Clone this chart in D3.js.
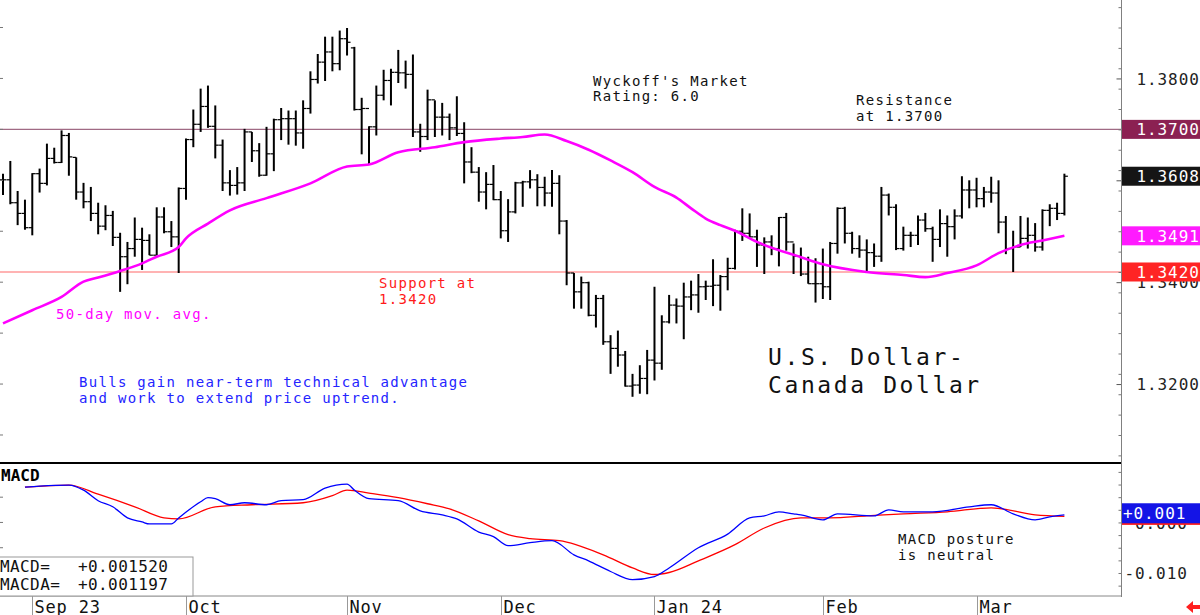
<!DOCTYPE html>
<html>
<head>
<meta charset="utf-8">
<script src="https://cdn.jsdelivr.net/npm/d3@7"></script>
<style>
  body { margin: 0; background: #fff; }
  svg { display: block; }
  text { font-family: "DejaVu Sans Mono", monospace; white-space: pre; }
</style>
</head>
<body>
<script>
// ---- data (daily bars, Aug 28 2023 .. Mar 19 2024) ----
const monthLabels = ["Sep 23", "Oct", "Nov", "Dec", "Jan 24", "Feb", "Mar"];
const monthStart = [4, 25, 47, 68, 89, 112, 133];

const opens = [1.3601,1.3601,1.3556,1.3535,1.3507,1.3613,1.3594,1.3643,1.3635,1.3688,
 1.3645,1.3577,1.3558,1.3535,1.3510,1.3531,1.3488,1.3450,1.3466,1.3484,
 1.3482,1.3453,1.3528,1.3499,1.3489,1.3584,1.3680,1.3710,1.3745,1.3706,
 1.3669,1.3595,1.3590,1.3595,1.3695,1.3658,1.3610,1.3652,1.3719,1.3721,
 1.3721,1.3693,1.3741,1.3798,1.3832,1.3852,1.3829,1.3878,1.3860,1.3739,
 1.3741,1.3705,1.3767,1.3796,1.3812,1.3811,1.3808,1.3695,1.3686,1.3758,
 1.3724,1.3724,1.3703,1.3692,1.3636,1.3616,1.3577,1.3592,1.3562,1.3501,
 1.3538,1.3595,1.3597,1.3601,1.3586,1.3575,1.3594,1.3520,1.3418,1.3381,
 1.3399,1.3335,1.3368,1.3283,1.3270,1.3257,1.3196,1.3198,1.3211,1.3247,
 1.3241,1.3322,1.3355,1.3353,1.3371,1.3375,1.3391,1.3392,1.3394,1.3411,
 1.3427,1.3500,1.3496,1.3489,1.3473,1.3479,1.3466,1.3527,1.3479,1.3451,
 1.3416,1.3397,1.3397,1.3391,1.3476,1.3545,1.3496,1.3466,1.3463,1.3458,
 1.3451,1.3571,1.3547,1.3466,1.3492,1.3492,1.3522,1.3505,1.3484,1.3515,
 1.3509,1.3530,1.3581,1.3581,1.3564,1.3577,1.3575,1.3518,1.3466,1.3469,
 1.3486,1.3492,1.3469,1.3541,1.3545,1.3535];

const highs = [1.3613,1.3638,1.3579,1.3562,1.3614,1.3623,1.3672,1.3664,1.3698,1.3693,
 1.3645,1.3595,1.3587,1.3556,1.3551,1.3540,1.3497,1.3479,1.3527,1.3507,
 1.3494,1.3547,1.3547,1.3520,1.3586,1.3682,1.3739,1.3780,1.3786,1.3747,
 1.3680,1.3620,1.3626,1.3701,1.3695,1.3673,1.3705,1.3721,1.3742,1.3737,
 1.3737,1.3757,1.3814,1.3848,1.3882,1.3882,1.3894,1.3899,1.3862,1.3762,
 1.3706,1.3786,1.3817,1.3819,1.3856,1.3835,1.3847,1.3711,1.3778,1.3757,
 1.3752,1.3731,1.3765,1.3714,1.3665,1.3626,1.3616,1.3630,1.3579,1.3563,
 1.3597,1.3599,1.3620,1.3612,1.3607,1.3620,1.3610,1.3522,1.3418,1.3411,
 1.3401,1.3375,1.3375,1.3296,1.3305,1.3265,1.3220,1.3237,1.3267,1.3391,
 1.3335,1.3375,1.3368,1.3399,1.3403,1.3416,1.3403,1.3445,1.3414,1.3448,
 1.3503,1.3545,1.3535,1.3503,1.3488,1.3492,1.3528,1.3536,1.3476,1.3468,
 1.3450,1.3447,1.3466,1.3479,1.3547,1.3548,1.3499,1.3492,1.3484,1.3476,
 1.3587,1.3574,1.3553,1.3509,1.3499,1.3531,1.3536,1.3509,1.3543,1.3531,
 1.3543,1.3608,1.3600,1.3605,1.3587,1.3607,1.3600,1.3530,1.3501,1.3530,
 1.3527,1.3516,1.3543,1.3553,1.3556,1.3613];

const lows = [1.3571,1.3553,1.3512,1.3503,1.3492,1.3576,1.3590,1.3633,1.3634,1.3609,
 1.3562,1.3545,1.3520,1.3494,1.3502,1.3471,1.3381,1.3396,1.3450,1.3424,
 1.3453,1.3453,1.3496,1.3469,1.3418,1.3562,1.3665,1.3695,1.3703,1.3643,
 1.3579,1.3570,1.3572,1.3579,1.3636,1.3607,1.3609,1.3618,1.3679,1.3670,
 1.3668,1.3662,1.3731,1.3790,1.3795,1.3814,1.3816,1.3845,1.3737,1.3651,
 1.3631,1.3688,1.3757,1.3747,1.3791,1.3780,1.3685,1.3656,1.3679,1.3685,
 1.3688,1.3679,1.3687,1.3594,1.3614,1.3558,1.3543,1.3561,1.3486,1.3479,
 1.3535,1.3548,1.3584,1.3549,1.3549,1.3548,1.3494,1.3394,1.3348,1.3348,
 1.3333,1.3311,1.3277,1.3220,1.3234,1.3195,1.3175,1.3181,1.3180,1.3207,
 1.3228,1.3319,1.3319,1.3288,1.3345,1.3340,1.3365,1.3353,1.3344,1.3384,
 1.3425,1.3481,1.3488,1.3430,1.3416,1.3453,1.3431,1.3462,1.3416,1.3412,
 1.3397,1.3360,1.3367,1.3365,1.3456,1.3476,1.3456,1.3448,1.3418,1.3430,
 1.3440,1.3531,1.3463,1.3462,1.3469,1.3473,1.3499,1.3440,1.3469,1.3450,
 1.3484,1.3525,1.3545,1.3547,1.3547,1.3556,1.3496,1.3455,1.3420,1.3469,
 1.3466,1.3460,1.3462,1.3510,1.3522,1.3531];

const closes = [1.3601,1.3556,1.3535,1.3507,1.3613,1.3594,1.3643,1.3635,1.3688,1.3646,
 1.3577,1.3558,1.3535,1.3510,1.3531,1.3488,1.3450,1.3466,1.3484,1.3482,
 1.3453,1.3528,1.3499,1.3489,1.3584,1.3680,1.3710,1.3745,1.3706,1.3669,
 1.3595,1.3590,1.3595,1.3695,1.3658,1.3610,1.3652,1.3719,1.3721,1.3721,
 1.3693,1.3741,1.3798,1.3832,1.3852,1.3829,1.3878,1.3871,1.3739,1.3741,
 1.3705,1.3767,1.3796,1.3812,1.3811,1.3808,1.3695,1.3686,1.3758,1.3724,
 1.3724,1.3703,1.3692,1.3636,1.3616,1.3577,1.3592,1.3562,1.3501,1.3538,
 1.3595,1.3597,1.3601,1.3586,1.3575,1.3594,1.3520,1.3418,1.3381,1.3399,
 1.3335,1.3368,1.3283,1.3270,1.3257,1.3196,1.3198,1.3211,1.3247,1.3241,
 1.3322,1.3355,1.3353,1.3371,1.3375,1.3391,1.3392,1.3394,1.3411,1.3427,
 1.3500,1.3496,1.3489,1.3473,1.3479,1.3466,1.3527,1.3479,1.3451,1.3416,
 1.3397,1.3397,1.3391,1.3476,1.3545,1.3496,1.3466,1.3463,1.3458,1.3451,
 1.3571,1.3547,1.3466,1.3492,1.3492,1.3522,1.3505,1.3484,1.3515,1.3509,
 1.3530,1.3581,1.3581,1.3564,1.3577,1.3575,1.3518,1.3466,1.3469,1.3486,
 1.3492,1.3469,1.3541,1.3545,1.3535,1.3608];

// 50-day moving average, read at these bar positions
const maAt = [0,4,8,11,13,16,19,21,24,25,28,31,36,42,47,50,54,59,63,68,71,74,77,80,83,86,89,92,94,96,98,100,103,109,112,118,123,126,129,133,136,139,142,145];
const maVal = [1.3319,1.3345,1.3371,1.3401,1.3409,1.3422,1.3437,1.3450,1.3469,1.3486,
 1.3515,1.3541,1.3565,1.3594,1.3627,1.3631,1.3655,1.3665,1.3675,1.3682,
 1.3685,1.3690,1.3677,1.3660,1.3639,1.3616,1.3587,1.3566,1.3545,1.3525,
 1.3512,1.3501,1.3479,1.3449,1.3435,1.3420,1.3414,1.3410,1.3418,1.3433,
 1.3457,1.3473,1.3482,1.3491];

// MACD (blue) and its average MACDA (red)
const macdAt = [3,5,9,11,13,15,17,19,20,23,24,27,28,29,31,33,36,38,41,44,47,48,50,54,57,60,62,65,67,69,72,75,78,80,83,86,89,91,95,99,102,104,106,108,109,112,114,119,121,123,127,132,135,138,141,143,145];
const macdVal = [0.0070,0.0072,0.0074,0.0064,0.0043,0.0031,0.0009,0.0001,-0.0003,-0.0003,0.0009,0.0041,0.0049,0.0047,0.0035,0.0039,0.0035,0.0043,0.0045,0.0068,0.0076,0.0064,0.0047,0.0043,0.0023,0.0015,0.0007,-0.0019,-0.0028,-0.0046,-0.0040,-0.0036,-0.0064,-0.0076,-0.0097,-0.0113,-0.0107,-0.0090,-0.0050,-0.0023,0.0009,0.0013,0.0021,0.0017,0.0015,0.0005,0.0017,0.0013,0.0025,0.0021,0.0021,0.0031,0.0035,0.0017,0.0005,0.0011,0.0015];
const sigAt = [3,9,13,18,22,24,29,34,41,45,47,50,54,58,61,65,69,72,76,82,86,89,91,95,100,104,109,113,118,123,129,135,141,145];
const sigVal = [0.0070,0.0074,0.0056,0.0031,0.0009,0.0007,0.0031,0.0035,0.0039,0.0053,0.0064,0.0058,0.0049,0.0037,0.0027,0.0003,-0.0024,-0.0032,-0.0036,-0.0064,-0.0090,-0.0103,-0.0099,-0.0076,-0.0044,-0.0011,0.0009,0.0009,0.0013,0.0017,0.0021,0.0029,0.0015,0.0012];

const priceTicks = [1.32, 1.34, 1.36, 1.38];
const priceLabels = [1.32, 1.34, 1.38];   // 1.3600 sits under the last-price tag
const macdTicks = [0, -0.01];
const resistance = 1.3700;
const support = 1.3420;
const lastPrice = 1.3608;
const lastMa = 1.3491;
const lastMacd = 0.001520;
const lastMacda = 0.001197;

// ---- layout ----
let width = 1200;
let height = 615;
let axisX = 1121.5;
let priceBottom = 463;
let macdTop = 463;
let macdBottom = 596;

const svg = d3.select("body")
    .append("svg")
    .attr("width", width)
    .attr("height", height);

svg.append("rect").attr("width", width).attr("height", height).attr("fill", "#fff");

const x = d3.scaleLinear().domain([0, closes.length - 1]).range([3, 1064.4]);
const y = d3.scaleLinear().domain([1.3045, 1.3954]).range([priceBottom, 0]);
const ym = d3.scaleLinear().domain([-0.01455, 0.01176]).range([macdBottom, macdTop]);

const fmt4 = d3.format(".4f");
const fmt3 = v => d3.format("+.3f")(v).replace("\u2212", "-").replace("+0.000", " 0.000");

function label(t, px, py, color, size, spacing) {
    return svg.append("text")
        .attr("x", px)
        .attr("y", py)
        .attr("fill", color)
        .attr("font-size", size + "px")
        .attr("letter-spacing", spacing)
        .text(t);
}

// support / resistance
svg.append("line")
    .attr("x1", 0).attr("x2", axisX)
    .attr("y1", y(resistance)).attr("y2", y(resistance))
    .attr("stroke", "#a06a84").attr("stroke-width", 1.3);
svg.append("line")
    .attr("x1", 0).attr("x2", axisX)
    .attr("y1", y(support)).attr("y2", y(support))
    .attr("stroke", "#ff9a9a").attr("stroke-width", 1.3);

// OHLC bars
const idx = d3.range(closes.length);
const bars = svg.append("g").attr("stroke", "#000");
bars.selectAll(".hl").data(idx).join("line")
    .attr("x1", i => x(i)).attr("x2", i => x(i))
    .attr("y1", i => y(highs[i])).attr("y2", i => y(lows[i]))
    .attr("stroke-width", 2);
bars.selectAll(".op").data(idx).join("line")
    .attr("x1", i => x(i) - 3.5).attr("x2", i => x(i))
    .attr("y1", i => y(opens[i])).attr("y2", i => y(opens[i]))
    .attr("stroke-width", 1.2);
bars.selectAll(".cl").data(idx).join("line")
    .attr("x1", i => x(i)).attr("x2", i => x(i) + 3.5)
    .attr("y1", i => y(closes[i])).attr("y2", i => y(closes[i]))
    .attr("stroke-width", 1.2);

// moving average
const maLine = d3.line()
    .x(d => x(d[0]))
    .y(d => y(d[1]))
    .curve(d3.curveMonotoneX);
svg.append("path")
    .datum(d3.zip(maAt, maVal))
    .attr("fill", "none")
    .attr("stroke", "#ff00ff")
    .attr("stroke-width", 2.6)
    .attr("d", maLine);

// price axis (ticks point into the plot, labels to the right)
const minorPrice = d3.range(1.306, 1.395, 0.004);
svg.append("g")
    .attr("transform", "translate(" + axisX + ",0)")
    .call(d3.axisLeft(y).tickValues(minorPrice).tickSize(3).tickFormat(""))
    .call(g => g.select(".domain").remove())
    .selectAll("line").attr("stroke", "#777");
svg.append("g")
    .attr("transform", "translate(" + axisX + ",0)")
    .call(d3.axisLeft(y).tickValues(priceTicks).tickSize(5).tickFormat(""))
    .call(g => g.select(".domain").remove())
    .selectAll("line").attr("stroke", "#555");
const pAxis = svg.append("g")
    .attr("transform", "translate(" + axisX + ",0)")
    .call(d3.axisRight(y).tickValues(priceLabels).tickSize(0).tickPadding(15).tickFormat(fmt4))
    .call(g => g.select(".domain").remove());
pAxis.selectAll("text")
    .attr("font-family", "DejaVu Sans Mono")
    .attr("font-size", "16px")
    .attr("letter-spacing", 0.9)
    .attr("fill", "#222")
    .attr("dy", "0.36em");

// left edge ticks
svg.append("g").selectAll("line")
    .data(d3.range(1.31, 1.395, 0.01)).join("line")
    .attr("x1", 0).attr("x2", 3)
    .attr("y1", d => y(d)).attr("y2", d => y(d))
    .attr("stroke", "#777");

// value tags on the price axis
[[resistance, "#8b2152"], [lastPrice, "#151515"], [lastMa, "#ff1aff"], [support, "#ff2424"]]
    .forEach(([v, c]) => {
        svg.append("rect")
            .attr("x", axisX + 0.5).attr("y", y(v) - 9.5)
            .attr("width", 80).attr("height", 19)
            .attr("fill", c);
        label(fmt4(v), 1136.5, y(v) + 5.8, "#fff", 16, 0.9);
    });

// annotations in the price panel
label("Wyckoff's Market", 593, 86, "#111", 14, 1.3);
label("Rating: 6.0", 593, 101, "#111", 14, 1.3);
label("Resistance", 856, 105, "#111", 14, 1.3);
label("at 1.3700", 856, 120.5, "#111", 14, 1.3);
label("Support at", 379, 288, "#ff1a1a", 14, 1.3);
label("1.3420", 379, 304, "#ff1a1a", 14, 1.3);
label("50-day mov. avg.", 56, 319, "#ff00ff", 14, 1.3);
label("Bulls gain near-term technical advantage", 79, 387, "#2424ff", 14, 1.3);
label("and work to extend price uptrend.", 79, 403, "#2424ff", 14, 1.3);
label("U.S. Dollar-", 768, 365, "#111", 23, 2.6);
label("Canada Dollar", 768, 392.5, "#111", 23, 2.6);

// ---- MACD panel ----
svg.append("line")
    .attr("x1", 0).attr("x2", axisX)
    .attr("y1", macdTop).attr("y2", macdTop)
    .attr("stroke", "#000").attr("stroke-width", 2);
svg.append("line")
    .attr("x1", 0).attr("x2", axisX)
    .attr("y1", macdBottom).attr("y2", macdBottom)
    .attr("stroke", "#888");

const mLine = d3.line()
    .x(d => x(d[0]))
    .y(d => ym(d[1]))
    .curve(d3.curveMonotoneX);
svg.append("path")
    .datum(d3.zip(sigAt, sigVal))
    .attr("fill", "none").attr("stroke", "#ff0000").attr("stroke-width", 1.3)
    .attr("d", mLine);
svg.append("path")
    .datum(d3.zip(macdAt, macdVal))
    .attr("fill", "none").attr("stroke", "#0000ff").attr("stroke-width", 1.3)
    .attr("d", mLine);

svg.append("text")
    .attr("x", 1).attr("y", 481)
    .attr("font-family", "Liberation Sans, Arial, sans-serif")
    .attr("font-weight", "bold")
    .attr("font-size", "16px")
    .attr("fill", "#000")
    .text("MACD");

label("MACD posture", 898, 544, "#111", 14, 1.3);
label("is neutral", 898, 560, "#111", 14, 1.3);

// MACD axis
svg.append("g")
    .attr("transform", "translate(" + axisX + ",0)")
    .call(d3.axisLeft(ym).tickValues(d3.range(-0.0125, 0.0116, 0.0025)).tickSize(3).tickFormat(""))
    .call(g => g.select(".domain").remove())
    .selectAll("line").attr("stroke", "#777");
const mAxis = svg.append("g")
    .attr("transform", "translate(" + axisX + ",0)")
    .call(d3.axisRight(ym).tickValues(macdTicks).tickSize(0).tickPadding(3).tickFormat(fmt3))
    .call(g => g.select(".domain").remove());
mAxis.selectAll("text")
    .attr("font-family", "DejaVu Sans Mono")
    .attr("font-size", "16px")
    .attr("letter-spacing", 0.9)
    .attr("fill", "#222")
    .attr("dy", "0.36em");
svg.append("g").selectAll("line")
    .data([0.005, 0, -0.005]).join("line")
    .attr("x1", 0).attr("x2", 3)
    .attr("y1", d => ym(d)).attr("y2", d => ym(d))
    .attr("stroke", "#777");

[[lastMacda, "#ff1a1a"], [lastMacd, "#1414e6"]].forEach(([v, c]) => {
    svg.append("rect")
        .attr("x", axisX + 0.5).attr("y", ym(v) - 11.5)
        .attr("width", 80).attr("height", 20)
        .attr("fill", c);
});
// the tag shows the value cut to three decimals
label(d3.format("+.3f")(Math.trunc(lastMacd * 1000) / 1000), 1123, ym(lastMacd) + 4.5, "#fff", 16, 0.9);

// legend box
svg.append("rect")
    .attr("x", -1).attr("y", 557)
    .attr("width", 194).attr("height", 39)
    .attr("fill", "#fff").attr("stroke", "#999");
label("MACD=", 0, 571.5, "#111", 16, 0.4);
label(d3.format("+.6f")(lastMacd), 78, 571.5, "#111", 16, 0.4);
label("MACDA=", 0, 590, "#111", 16, 0.4);
label(d3.format("+.6f")(lastMacda), 78, 590, "#111", 16, 0.4);

// ---- date axis ----
svg.append("line")
    .attr("x1", axisX).attr("x2", axisX)
    .attr("y1", 0).attr("y2", macdBottom + 1)
    .attr("stroke", "#808080");
monthStart.forEach((s, k) => {
    let mx = Math.round(x(s)) + 0.5;
    svg.append("line")
        .attr("x1", mx).attr("x2", mx)
        .attr("y1", macdBottom).attr("y2", height)
        .attr("stroke", "#999");
    label(monthLabels[k], mx + 2, 612.5, "#111", 17, 0.8);
});

// small red marker bottom right
svg.append("path")
    .attr("d", "M1186,607 L1193,601 L1193,605 L1200,605 L1200,609 L1193,609 L1193,613 Z")
    .attr("fill", "#ff2020");
</script>
</body>
</html>
